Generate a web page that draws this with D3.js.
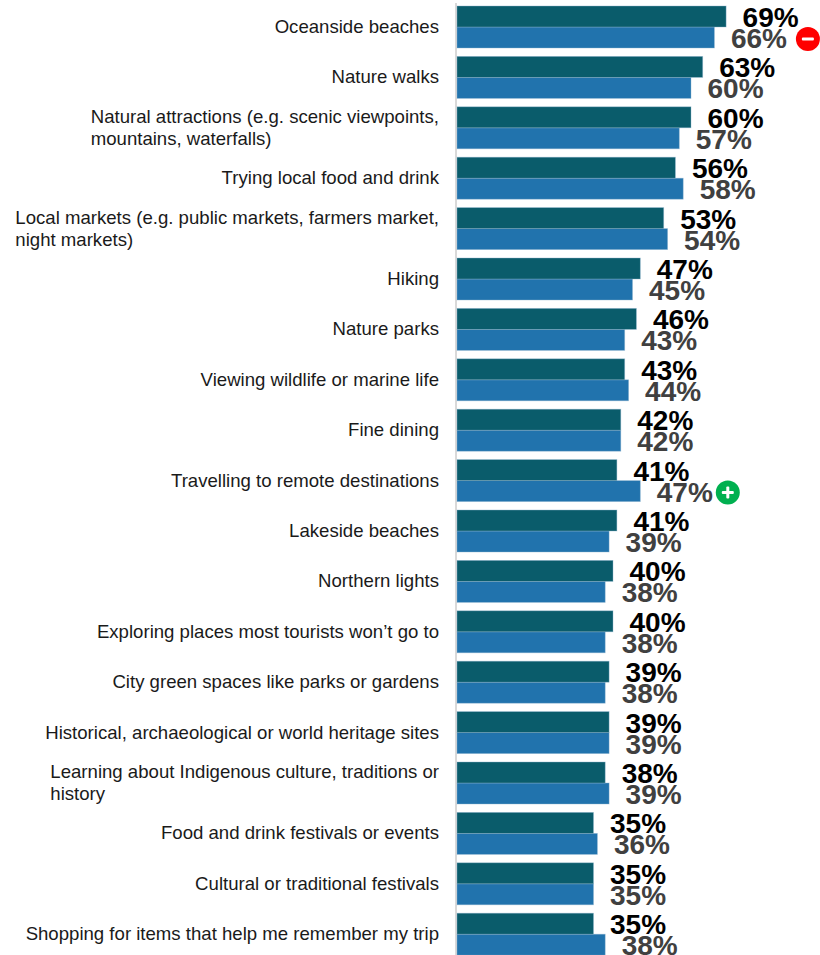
<!DOCTYPE html>
<html>
<head>
<meta charset="utf-8">
<script src="https://cdn.jsdelivr.net/npm/d3@7"></script>
<style>
html,body{margin:0;padding:0;background:#fff;overflow:hidden}
svg{display:block;font-family:"Liberation Sans",Arial,sans-serif}
</style>
</head>
<body>
<svg id="chart" width="820" height="955"></svg>
<script>
const categories = [
  ["Oceanside beaches"],
  ["Nature walks"],
  ["Natural attractions (e.g. scenic viewpoints,", "mountains, waterfalls)"],
  ["Trying local food and drink"],
  ["Local markets (e.g. public markets, farmers market,", "night markets)"],
  ["Hiking"],
  ["Nature parks"],
  ["Viewing wildlife or marine life"],
  ["Fine dining"],
  ["Travelling to remote destinations"],
  ["Lakeside beaches"],
  ["Northern lights"],
  ["Exploring places most tourists won’t go to"],
  ["City green spaces like parks or gardens"],
  ["Historical, archaeological or world heritage sites"],
  ["Learning about Indigenous culture, traditions or", "history"],
  ["Food and drink festivals or events"],
  ["Cultural or traditional festivals"],
  ["Shopping for items that help me remember my trip"]
];
const seriesA = [69,63,60,56,53,47,46,43,42,41,41,40,40,39,39,38,35,35,35];
const seriesB = [66,60,57,58,54,45,43,44,42,47,39,38,38,38,39,39,36,35,38];
// index of the row in seriesB and the direction of its significant change
const changes = [{row:0, sign:"minus"},{row:9, sign:"plus"}];

const svg = d3.select("#chart");
const x = d3.scaleLinear().domain([0,100]).range([457,847]);
const y = d3.scaleBand().domain(d3.range(categories.length)).range([6,6+50.4*19]).paddingInner(0).paddingOuter(0);
const barH = 21;
const labelFont = 18.6;
const labelGap = 16.5;
const badgeGap = {minus:21, plus:15};
const colours = {a:"#0a5c6b", b:"#2173ad", edge:"#8fb6cf"};

// baseline rule
svg.append("line").attr("x1",456).attr("x2",456).attr("y1",3).attr("y2",955)
  .attr("stroke","#d9d9d9").attr("stroke-width",2);

const rows = svg.selectAll("g.row").data(categories).join("g").attr("class","row")
  .attr("transform",(d,i)=>`translate(0,${y(i)})`);

// two-line labels are left aligned inside a block whose longest line ends at the label edge
const measure = svg.append("text").attr("font-size",labelFont).attr("visibility","hidden");
const labelRight = 439;
rows.each(function(lines){
  const widest = d3.max(lines, l => { measure.text(l); return measure.node().getComputedTextLength(); });
  const g = d3.select(this);
  const cy = barH;
  lines.forEach((l,k)=>{
    g.append("text")
      .attr("x", lines.length>1 ? labelRight-widest : labelRight)
      .attr("y", cy + 6 + (k-(lines.length-1)/2)*22)
      .attr("text-anchor", lines.length>1 ? "start" : "end")
      .attr("font-size",labelFont).attr("fill","#1a1a1a")
      .text(l);
  });
});
measure.remove();

function drawSeries(values, offset, fill, textFill){
  rows.append("rect")
    .attr("x",x(0)).attr("y",offset)
    .attr("width",(d,i)=>x(values[i])-x(0)).attr("height",barH)
    .attr("fill",fill).attr("stroke",colours.edge).attr("stroke-opacity",0.5).attr("stroke-width",0.8);
  rows.append("text")
    .attr("x",(d,i)=>x(values[i])+labelGap).attr("y",offset+21)
    .attr("font-size",28).attr("font-weight",700).attr("fill",textFill)
    .text((d,i)=>values[i]+"%");
}
drawSeries(seriesB,21,colours.b,"#404040");
drawSeries(seriesA,0,colours.a,"#000000");

// significance badges beside the lower series labels
changes.forEach(c=>{
  const labelEnd = x(seriesB[c.row])+labelGap+56;
  const cx = labelEnd + badgeGap[c.sign], cy = y(c.row)+33;
  const g = svg.append("g").attr("transform",`translate(${cx},${cy})`);
  g.append("circle").attr("r",12).attr("fill",c.sign==="minus"?"#ff0000":"#00b050");
  g.append("rect").attr("x",-6).attr("y",-1.5).attr("width",12).attr("height",3).attr("rx",1).attr("fill","#fff");
  if(c.sign==="plus") g.append("rect").attr("x",-1.5).attr("y",-6).attr("width",3).attr("height",12).attr("rx",1).attr("fill","#fff");
});
</script>
</body>
</html>
